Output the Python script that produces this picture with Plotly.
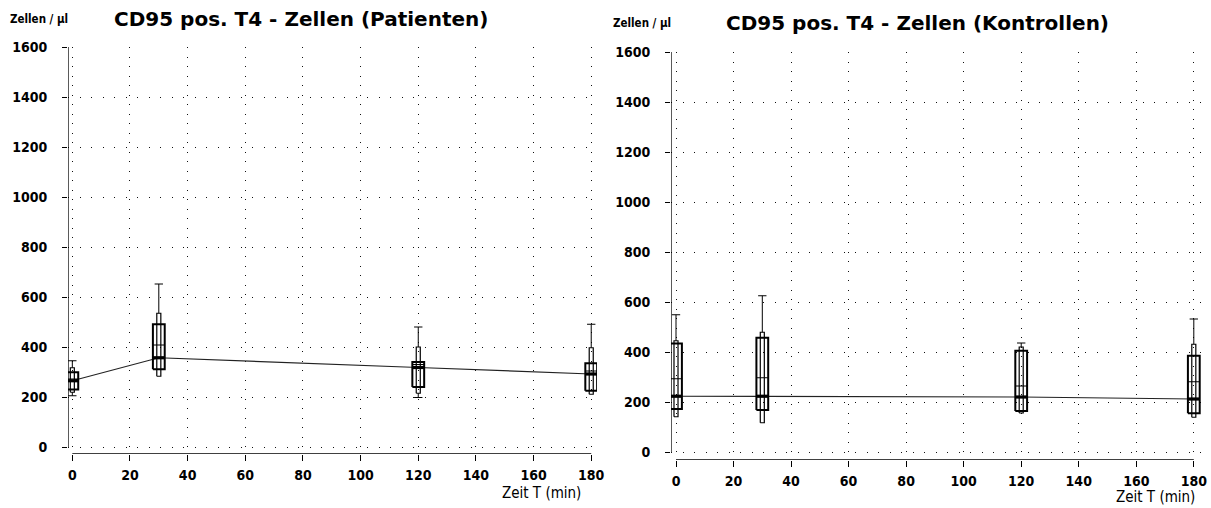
import plotly.graph_objects as go

# ---------------- data ----------------
zeit = [0, 30, 120, 180]

# Patienten
pat_max = [345, 652, 480, 491]
pat_p90 = [317, 535, 400, 397]
pat_q3 = [299, 491, 340, 335]
pat_mean = [272, 408, 330, 304]
pat_median = [265, 357, 318, 292]
pat_q1 = [230, 311, 240, 225]
pat_p10 = [219, 283, 215, 211]
pat_min = [205, 283, 198, 211]

# Kontrollen
kon_max = [549, 625, 436, 532]
kon_p90 = [445, 479, 420, 431]
kon_q3 = [434, 457, 405, 385]
kon_mean = [293, 297, 264, 281]
kon_median = [223, 223, 220, 212]
kon_q1 = [172, 168, 164, 155]
kon_p10 = [141, 117, 156, 139]
kon_min = [141, 117, 156, 139]

y_ticks = [0, 200, 400, 600, 800, 1000, 1200, 1400, 1600]
x_ticks = [0, 20, 40, 60, 80, 100, 120, 140, 160, 180]

title_left = "CD95 pos. T4 - Zellen (Patienten)"
title_right = "CD95 pos. T4 - Zellen (Kontrollen)"
y_label = "Zellen / µl"
x_label = "Zeit T (min)"

# ---------------- style ----------------
W_WIDE = 2.05
W_NARROW = 0.7
W_CAP = 1.45
NUM_FONT = "DejaVu Sans Condensed, DejaVu Sans, sans-serif"
TITLE_FONT = "DejaVu Sans, Verdana, sans-serif"

fig = go.Figure()


def rects(xs, lo, hi, hw):
    px, py = [], []
    for x, a, b in zip(xs, lo, hi):
        px += [x - hw, x + hw, x + hw, x - hw, x - hw, None]
        py += [a, a, b, b, a, None]
    return px, py


def hlines(xs, ys, hw):
    px, py = [], []
    for x, y in zip(xs, ys):
        px += [x - hw, x + hw, None]
        py += [y, y, None]
    return px, py


def add_panel(xa, ya, mx, p90, q3, mean, med, q1, p10, mn):
    fig.add_trace(go.Scatter(x=zeit, y=med, mode="lines", xaxis=xa, yaxis=ya,
                             line=dict(color="#222", width=1.2), showlegend=False, hoverinfo="skip"))
    wx, wy = [], []
    for x, top, hi, lo, bot in zip(zeit, mx, p90, p10, mn):
        wx += [x, x, None, x - W_CAP, x + W_CAP, None]
        wy += [hi, top, None, top, top, None]
        if bot < lo:
            wx += [x, x, None, x - W_CAP, x + W_CAP, None]
            wy += [lo, bot, None, bot, bot, None]
    fig.add_trace(go.Scatter(x=wx, y=wy, mode="lines", xaxis=xa, yaxis=ya,
                             line=dict(color="black", width=1), showlegend=False, hoverinfo="skip"))
    nx, ny = rects(zeit, p10, p90, W_NARROW)
    fig.add_trace(go.Scatter(x=nx, y=ny, mode="lines", xaxis=xa, yaxis=ya,
                             line=dict(color="black", width=1.2), showlegend=False, hoverinfo="skip"))
    bx, by = rects(zeit, q1, q3, W_WIDE)
    fig.add_trace(go.Scatter(x=bx, y=by, mode="lines", xaxis=xa, yaxis=ya,
                             line=dict(color="black", width=2), showlegend=False, hoverinfo="skip"))
    mx_, my_ = hlines(zeit, mean, W_WIDE)
    fig.add_trace(go.Scatter(x=mx_, y=my_, mode="lines", xaxis=xa, yaxis=ya,
                             line=dict(color="black", width=1), showlegend=False, hoverinfo="skip"))
    dx, dy = hlines(zeit, med, W_WIDE)
    fig.add_trace(go.Scatter(x=dx, y=dy, mode="lines", xaxis=xa, yaxis=ya,
                             line=dict(color="black", width=3.2), showlegend=False, hoverinfo="skip"))


add_panel("x", "y", pat_max, pat_p90, pat_q3, pat_mean, pat_median, pat_q1, pat_p10, pat_min)
add_panel("x2", "y2", kon_max, kon_p90, kon_q3, kon_mean, kon_median, kon_q1, kon_p10, kon_min)

FW, FH = 1211, 508


def px_x(p):
    return p / FW


def px_y(p):
    return 1 - p / FH


numfont = dict(family=NUM_FONT, size=14, color="black", weight="bold")
xcommon = dict(tickvals=x_ticks, ticktext=[str(v) for v in x_ticks], ticks="outside", ticklen=6,
               tickcolor="black", showline=False, zeroline=False, showgrid=True,
               gridcolor="#111", griddash="1px,8.5px", gridwidth=1,
               tickfont=numfont, ticklabelstandoff=2, automargin=False, fixedrange=True)
ycommon = dict(tickvals=y_ticks, ticktext=[str(v) for v in y_ticks], ticks="outside", ticklen=5,
               tickcolor="black", showline=False, zeroline=False, showgrid=True,
               gridcolor="#111", griddash="1px,10.5px", gridwidth=1,
               tickfont=numfont, ticklabelstandoff=12, automargin=False, fixedrange=True)

fig.update_layout(
    width=FW, height=FH, margin=dict(l=0, r=0, t=0, b=0, autoexpand=False),
    paper_bgcolor="white", plot_bgcolor="white", showlegend=False,
    xaxis=dict(xcommon, domain=[px_x(68), px_x(597)], range=[-1.5, 182], anchor="y"),
    yaxis=dict(ycommon, domain=[px_y(454), px_y(47)], range=[-28, 1600], anchor="x"),
    xaxis2=dict(xcommon, domain=[px_x(671), px_x(1201)], range=[-1.74, 182.5], anchor="y2"),
    yaxis2=dict(ycommon, domain=[px_y(460), px_y(52)], range=[-32, 1600], anchor="x2"),
)

for xa, ya, x0, ybot in [("x", "y", -1.5, -28), ("x2", "y2", -1.74, -32)]:
    fig.add_shape(type="line", xref=xa, yref=ya, x0=x0, x1=x0, y0=0, y1=1600,
                  line=dict(color="black", width=1.3))
    fig.add_shape(type="line", xref=xa, yref=ya, x0=0, x1=180, y0=ybot, y1=ybot,
                  line=dict(color="black", width=1.3))

ann = [
    dict(text=f"<b>{title_left}</b>", x=px_x(301), y=px_y(19), font=dict(family=TITLE_FONT, size=20)),
    dict(text=f"<b>{title_right}</b>", x=px_x(917), y=px_y(23), font=dict(family=TITLE_FONT, size=20)),
    dict(text=y_label, x=px_x(39), y=px_y(19), font=dict(family=NUM_FONT, size=11.5, weight=600)),
    dict(text=y_label, x=px_x(642), y=px_y(23), font=dict(family=NUM_FONT, size=11.5, weight=600)),
    dict(text=x_label, x=px_x(541), y=px_y(493), font=dict(family=NUM_FONT, size=15)),
    dict(text=x_label, x=px_x(1155), y=px_y(497), font=dict(family=NUM_FONT, size=15)),
]
for a in ann:
    fig.add_annotation(xref="paper", yref="paper", showarrow=False, xanchor="center", yanchor="middle",
                       font_color="black", **a)

fig.write_html("out.html", config={"displayModeBar": False, "staticPlot": True},
               post_script="document.body.style.margin='0';document.body.style.padding='0';"
                           "document.body.style.overflow='hidden';")
